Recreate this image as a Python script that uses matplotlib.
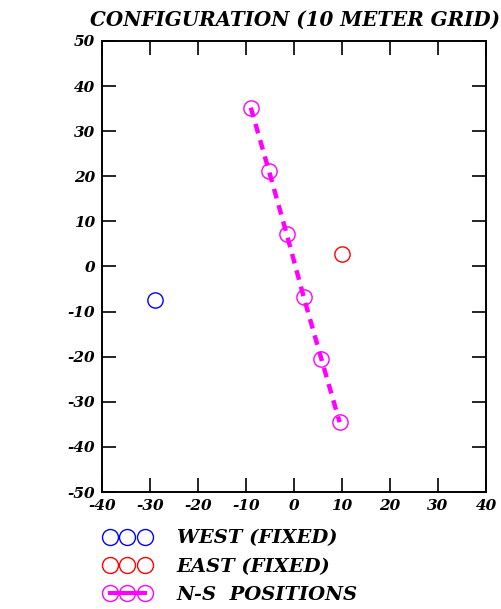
import numpy as np
import matplotlib
matplotlib.use('Agg')
from matplotlib import pyplot as plt
from matplotlib.lines import Line2D

# Donnees
west_x = [-29.0]
west_y = [-7.5]
east_x = [10.0]
east_y = [2.8]
ns_x = [-9.0, -5.2, -1.5, 2.0, 5.7, 9.5]
ns_y = [35.2, 21.1, 7.1, -6.7, -20.5, -34.5]

xticks = np.arange(-40, 41, 10)
yticks = np.arange(-50, 51, 10)

font = {'family': 'DejaVu Serif', 'weight': 'bold', 'style': 'italic'}

fig = plt.figure(figsize=(5.02, 6.09), dpi=100)
ax = fig.add_axes([0.2032, 0.192, 0.765, 0.7408])

ax.plot(ns_x, ns_y, color='#ff00ff', ls=(0, (2.2, 1.6)), lw=3.2, zorder=2)
ax.plot(ns_x, ns_y, ls='none', marker='o', ms=11, mfc='none', mec='#ff00ff', mew=1.0, zorder=3)
ax.plot(west_x, west_y, ls='none', marker='o', ms=11, mfc='none', mec='#0000ff', mew=1.0)
ax.plot(east_x, east_y, ls='none', marker='o', ms=11, mfc='none', mec='#ff0000', mew=1.0)

ax.set_xlim(-40, 40)
ax.set_ylim(-50, 50)
ax.set_xticks(xticks)
ax.set_yticks(yticks)
ax.set_xticklabels([str(v) for v in xticks], fontdict=font, fontsize=11)
ax.set_yticklabels([str(v) for v in yticks], fontdict=font, fontsize=11)
ax.tick_params(direction='in', length=10, width=1.2, top=True, right=True, pad=5)
for s in ax.spines.values():
    s.set_linewidth(1.4)

fig.text(0.588, 0.968, 'CONFIGURATION (10 METER GRID)', ha='center', va='center',
         fontdict=font, fontsize=14.3)

# Legende
handles = [
    Line2D([], [], ls='none', marker='o', ms=11.5, mfc='none', mec='#0000ff', mew=1.0),
    Line2D([], [], ls='none', marker='o', ms=11.5, mfc='none', mec='#ff0000', mew=1.0),
    Line2D([], [], color='#ff00ff', lw=3, marker='o', ms=11.5, mfc='none', mec='#ff00ff', mew=1.0),
]
labels = ['WEST (FIXED)', 'EAST (FIXED)', 'N-S  POSITIONS']
leg = ax.legend(handles, labels, loc='upper left', bbox_to_anchor=(-0.0156, -0.0656),
                frameon=False, numpoints=3, handlelength=2.4, handletextpad=1.35,
                labelspacing=0.53, borderaxespad=0,
                prop={'family': 'DejaVu Serif', 'weight': 'bold', 'style': 'italic', 'size': 14})

fig.savefig('out.png', dpi=100)
